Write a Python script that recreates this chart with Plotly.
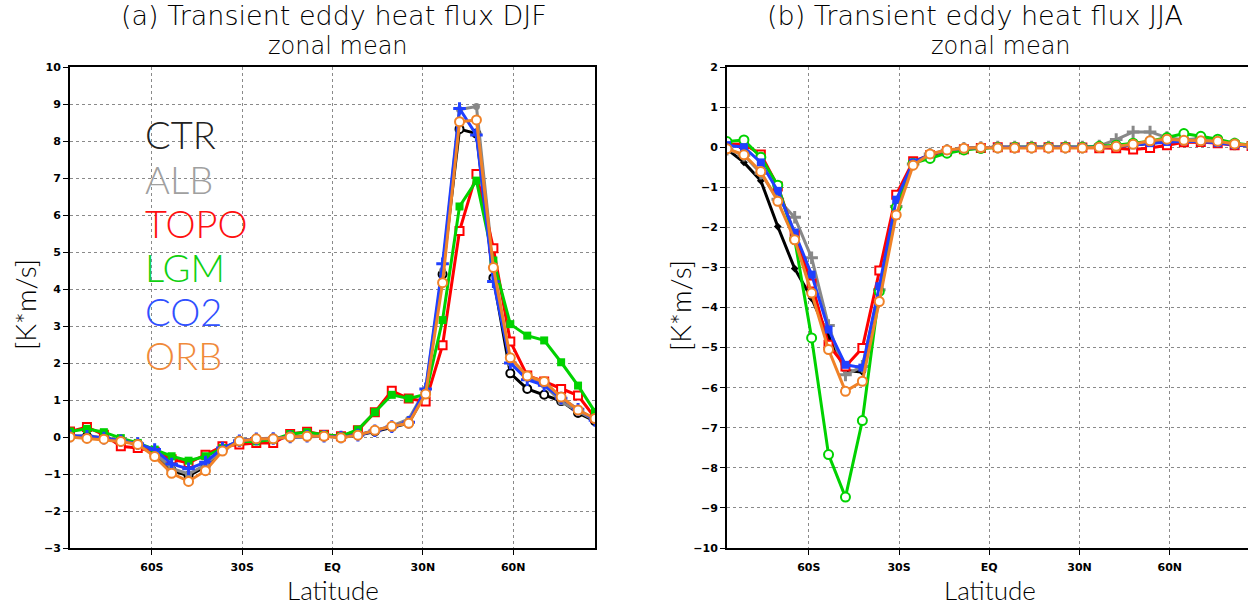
import plotly.graph_objects as go

W, H = 1248, 605

lat = [-87.19, -81.56, -75.94, -70.31, -64.69, -59.06, -53.44, -47.81, -42.19, -36.56,
       -30.94, -25.31, -19.69, -14.06, -8.44, -2.81, 2.81, 8.44, 14.06, 19.69,
       25.31, 30.94, 36.56, 42.19, 47.81, 53.44, 59.06, 64.69, 70.31, 75.94, 81.56, 87.19]

names = ["CTR", "ALB", "TOPO", "LGM", "CO2", "ORB"]

# DJF transient eddy heat flux (K m/s)
ctr_djf = [0.02, 0.02, -0.03, -0.10, -0.18, -0.45, -0.90, -1.05, -0.80, -0.33, -0.10, -0.05, -0.04, 0.00, 0.02, 0.02,
           0.00, 0.05, 0.15, 0.27, 0.37, 1.20, 4.40, 8.32, 8.20, 4.30, 1.72, 1.30, 1.14, 0.97, 0.65, 0.43]
alb_djf = [0.03, 0.02, -0.02, -0.10, -0.18, -0.42, -0.85, -1.00, -0.75, -0.32, -0.10, -0.05, -0.03, 0.00, 0.02, 0.02,
           0.00, 0.06, 0.18, 0.30, 0.48, 1.30, 4.50, 8.85, 8.93, 4.60, 2.00, 1.60, 1.40, 0.95, 0.70, 0.45]
topo_djf = [0.15, 0.27, 0.06, -0.25, -0.30, -0.40, -0.60, -0.70, -0.48, -0.25, -0.20, -0.16, -0.16, 0.08, 0.14, 0.06,
            0.02, 0.18, 0.67, 1.25, 1.04, 0.96, 2.48, 5.57, 7.11, 5.10, 2.58, 1.66, 1.50, 1.30, 1.12, 0.52]
lgm_djf = [0.15, 0.22, 0.13, -0.03, -0.16, -0.34, -0.52, -0.64, -0.52, -0.30, -0.12, -0.12, -0.07, 0.08, 0.13, 0.06,
           0.02, 0.20, 0.67, 1.14, 1.04, 1.15, 3.16, 6.23, 6.93, 4.77, 3.05, 2.74, 2.61, 2.02, 1.39, 0.68]
co2_djf = [0.03, 0.02, -0.03, -0.10, -0.18, -0.34, -0.73, -0.86, -0.68, -0.30, -0.10, -0.05, -0.04, 0.00, 0.02, 0.02,
           0.00, 0.05, 0.17, 0.28, 0.40, 1.30, 4.68, 8.88, 8.16, 4.20, 2.00, 1.55, 1.40, 1.05, 0.75, 0.45]
orb_djf = [0.00, -0.04, -0.06, -0.12, -0.20, -0.53, -0.98, -1.20, -0.91, -0.38, -0.11, -0.05, -0.05, 0.00, 0.02, 0.02,
           -0.02, 0.05, 0.18, 0.29, 0.37, 1.16, 4.17, 8.52, 8.57, 4.58, 2.14, 1.65, 1.50, 1.08, 0.73, 0.50]

# JJA transient eddy heat flux (K m/s)
ctr_jja = [-0.05, -0.38, -0.84, -1.98, -3.03, -3.77, -4.72, -5.57, -5.61, -3.60, -1.40, -0.40, -0.18, -0.08, -0.03, -0.01,
           0.00, 0.00, 0.00, 0.00, 0.00, 0.00, 0.00, 0.02, 0.05, 0.10, 0.14, 0.14, 0.13, 0.12, 0.07, 0.03]
alb_jja = [-0.05, -0.20, -0.65, -1.30, -1.75, -2.76, -4.45, -5.68, -5.47, -3.56, -1.48, -0.42, -0.17, -0.08, -0.03, -0.01,
           0.00, 0.00, 0.00, 0.00, 0.00, 0.00, 0.03, 0.19, 0.38, 0.38, 0.24, 0.18, 0.22, 0.15, 0.08, 0.05]
topo_jja = [0.07, 0.08, -0.18, -0.98, -2.20, -3.40, -4.93, -5.47, -5.01, -3.08, -1.19, -0.35, -0.20, -0.10, -0.05, -0.02,
            0.00, -0.01, 0.00, 0.00, 0.00, -0.01, -0.03, -0.03, -0.06, -0.02, 0.05, 0.12, 0.13, 0.10, 0.05, 0.03]
lgm_jja = [0.14, 0.18, -0.25, -0.95, -2.30, -4.76, -7.67, -8.73, -6.82, -3.60, -1.50, -0.40, -0.28, -0.15, -0.07, -0.03,
           -0.01, 0.00, 0.00, 0.00, 0.00, 0.00, 0.02, 0.05, 0.10, 0.15, 0.24, 0.34, 0.27, 0.20, 0.10, 0.05]
co2_jja = [0.05, 0.00, -0.38, -1.09, -2.13, -3.18, -4.55, -5.43, -5.50, -3.47, -1.31, -0.38, -0.18, -0.08, -0.03, -0.01,
           0.00, 0.00, 0.00, 0.00, 0.00, 0.00, 0.00, 0.02, 0.05, 0.10, 0.13, 0.15, 0.14, 0.10, 0.05, 0.02]
orb_jja = [-0.04, -0.19, -0.61, -1.35, -2.31, -3.64, -5.05, -6.09, -5.84, -3.85, -1.69, -0.45, -0.17, -0.07, -0.03, -0.01,
           -0.02, -0.02, -0.02, -0.02, -0.02, -0.02, 0.00, 0.02, 0.07, 0.16, 0.20, 0.17, 0.16, 0.15, 0.08, 0.05]

xtick_vals = [-60, -30, 0, 30, 60]
xtick_text = ["60S", "30S", "EQ", "30N", "60N"]

line_colors = ["#000000", "#888888", "#ff0000", "#00d200", "#2040ff", "#f08228"]
text_colors = ["#222222", "#a0a0a0", "#ff1010", "#10d010", "#3050ff", "#f08a3a"]

djf = [ctr_djf, alb_djf, topo_djf, lgm_djf, co2_djf, orb_djf]
jja = [ctr_jja, alb_jja, topo_jja, lgm_jja, co2_jja, orb_jja]

# marker styles: (symbol, size, fill, line width)
djf_marks = [("circle", 8, "white", 2), ("circle", 7, None, 0), ("square", 8, "white", 2),
             ("square", 8, None, 0), ("cross-thin", 9, None, 3), ("circle", 9, "white", 2)]
jja_marks = [("diamond", 6, None, 0), ("cross-thin", 9, None, 3), ("square", 8, "white", 2),
             ("circle", 9, "white", 2), ("square", 8, None, 0), ("circle", 9, "white", 2)]

fig = go.Figure()

def add_series(vals, marks, xa, ya):
    for k in range(6):
        sym, sz, fill, lw = marks[k]
        c = line_colors[k]
        if sym == "cross-thin":
            marker = dict(symbol=sym, size=sz, color=c, line=dict(color=c, width=lw))
        elif fill is None:
            marker = dict(symbol=sym, size=sz, color=c, line=dict(width=0))
        else:
            marker = dict(symbol=sym, size=sz, color=fill, line=dict(color=c, width=lw))
        fig.add_trace(go.Scatter(x=lat, y=vals[k], mode="lines+markers", name=names[k],
                                 line=dict(color=c, width=3), marker=marker,
                                 xaxis=xa, yaxis=ya, showlegend=False, cliponaxis=True))

add_series(djf, djf_marks, "x", "y")
add_series(jja, jja_marks, "x2", "y2")

ytop = 1 - 67 / H
ybot = 1 - 548 / H

axis_common = dict(showgrid=True, griddash="dot", gridcolor="#8a8a8a", gridwidth=1,
                   zeroline=False, showline=True, linecolor="black", linewidth=2,
                   ticks="outside", ticklen=5, tickcolor="black", tickwidth=1,
                   automargin=False,
                   tickfont=dict(family="DejaVu Sans", size=11, color="black", weight="bold"))

fig.update_layout(
    width=W, height=H, margin=dict(l=0, r=0, t=0, b=0, autoexpand=False),
    paper_bgcolor="white", plot_bgcolor="white",
    xaxis=dict(domain=[70 / W, 595 / W], range=[-87.19, 87.19], tickvals=xtick_vals,
               ticktext=xtick_text, mirror=True, anchor="y", ticklabelstandoff=3, **axis_common),
    yaxis=dict(domain=[ybot, ytop], range=[-3, 10], dtick=1, mirror=True, anchor="x", **axis_common),
    xaxis2=dict(domain=[727 / W, 1.0], range=[-87.19, 86.0], tickvals=xtick_vals,
                ticktext=xtick_text, mirror=True, anchor="y2", ticklabelstandoff=3, **axis_common),
    yaxis2=dict(domain=[ybot, ytop], range=[-10, 2], dtick=1, mirror=False, anchor="x2", **axis_common),
)

def ann(text, x, y, size, color="black", angle=0, xanchor="center", family="Lato", weight=300):
    fig.add_annotation(text=text, x=x / W, y=1 - y / H, xref="paper", yref="paper",
                       showarrow=False, xanchor=xanchor, yanchor="middle", textangle=angle,
                       font=dict(family=family, weight=weight, size=size, color=color))

ann("(a) Transient eddy heat flux DJF", 334, 16, 27, family="DejaVu Sans", weight=200)
ann("zonal mean", 338, 46, 24, family="DejaVu Sans", weight=200)
ann("(b) Transient eddy heat flux JJA", 975, 16, 27, family="DejaVu Sans", weight=200)
ann("zonal mean", 1001, 46, 24, family="DejaVu Sans", weight=200)
ann("[K*m/s]", 25, 305, 28, angle=-90)
ann("[K*m/s]", 680, 305, 28, angle=-90)
ann("Latitude", 333, 590, 26)
ann("Latitude", 990, 590, 26)

leg_y = [137, 182, 226, 270, 314, 358]
for k in range(6):
    ann(names[k], 143, leg_y[k] - 3, 38, color=text_colors[k], xanchor="left")

fig.write_html("out.html")
